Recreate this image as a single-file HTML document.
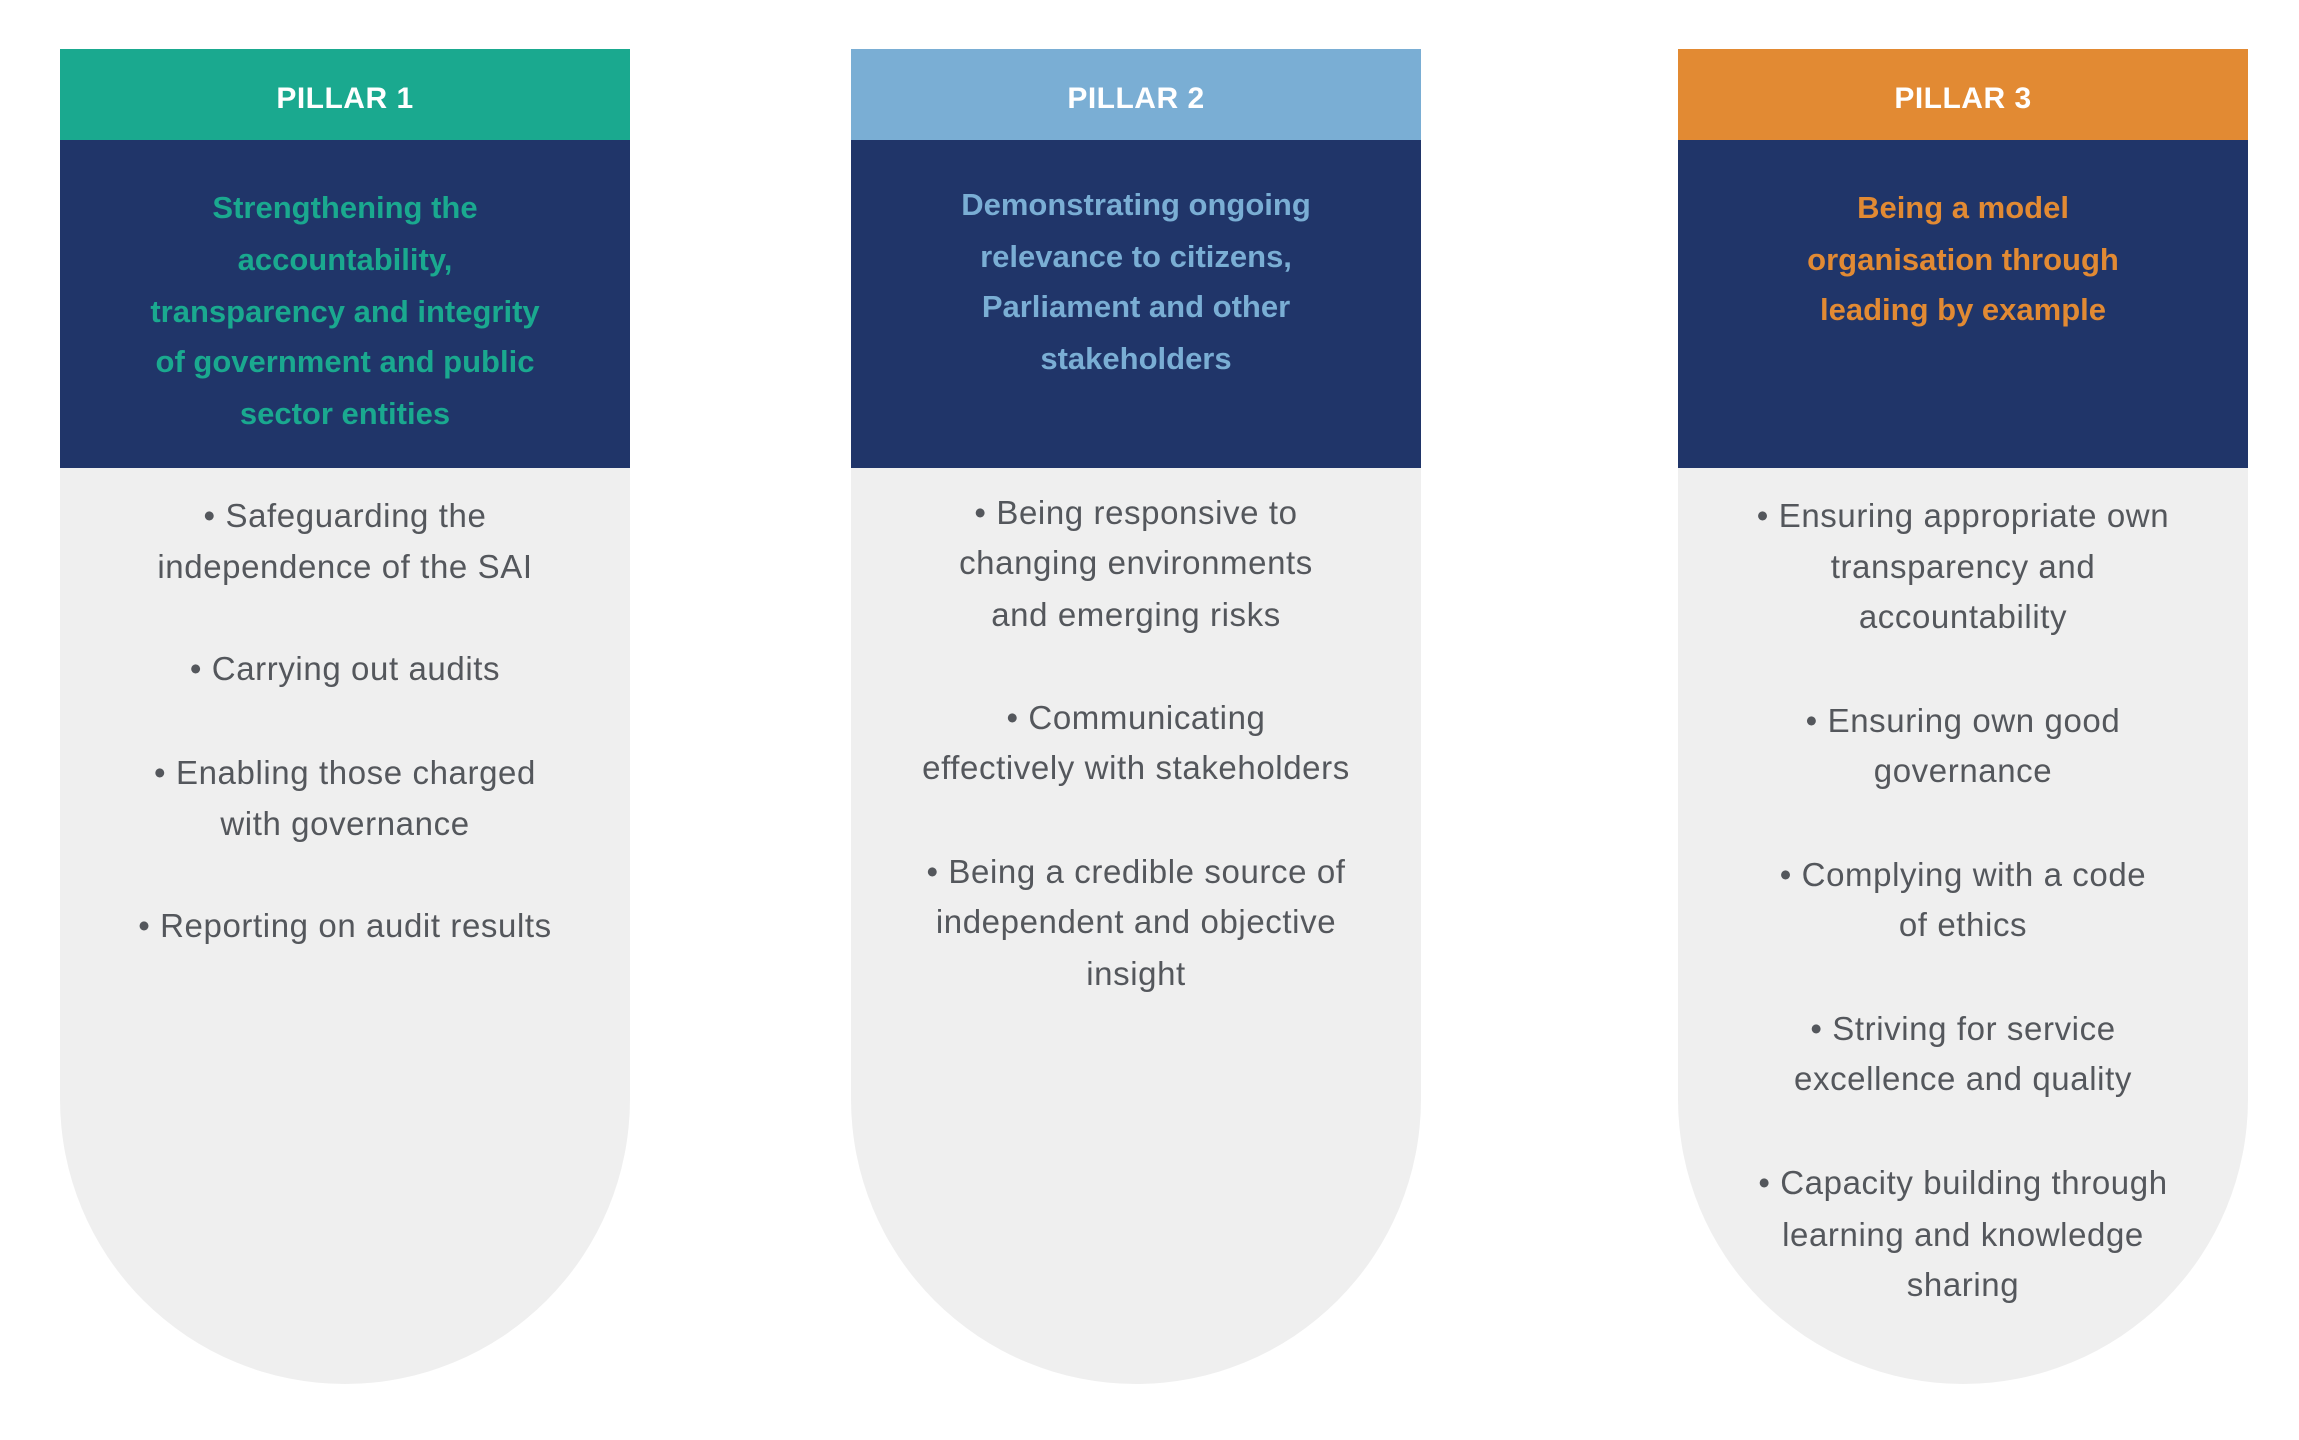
<!DOCTYPE html>
<html><head><meta charset="utf-8"><style>
body{margin:0;width:2299px;height:1440px;background:#fff;position:relative;overflow:hidden;font-family:"Liberation Sans",sans-serif}
.col{position:absolute;top:49px;width:570px}
.hd{height:91px;color:#fff;font-weight:bold;font-size:30px;text-align:center;line-height:100px;letter-spacing:0.5px}
.nv{height:328px;background:#203569;position:relative}
.gr{height:916px;background:#efefef;border-radius:0 0 285px 285px;position:relative}
.l{position:absolute;left:0;width:570px;text-align:center;height:52px;line-height:52px;white-space:nowrap}
.t{font-weight:bold;font-size:31px}
.b{font-size:33px;color:#54575c;letter-spacing:0.6px}
</style></head><body>

<div class="col" style="left:60px">
<div class="hd" style="background:#1aa98f">PILLAR 1</div>
<div class="nv">
<div class="l t" style="color:#1aa98f;top:42px">Strengthening the</div>
<div class="l t" style="color:#1aa98f;top:94px">accountability,</div>
<div class="l t" style="color:#1aa98f;top:146px">transparency and integrity</div>
<div class="l t" style="color:#1aa98f;top:196px">of government and public</div>
<div class="l t" style="color:#1aa98f;top:248px">sector entities</div>
</div>
<div class="gr">
<div class="l b" style="top:22px">• Safeguarding the</div>
<div class="l b" style="top:73px">independence of the SAI</div>
<div class="l b" style="top:175px">• Carrying out audits</div>
<div class="l b" style="top:279px">• Enabling those charged</div>
<div class="l b" style="top:330px">with governance</div>
<div class="l b" style="top:432px">• Reporting on audit results</div>
</div>
</div>

<div class="col" style="left:851px">
<div class="hd" style="background:#7aaed4">PILLAR 2</div>
<div class="nv">
<div class="l t" style="color:#7aaed4;top:39px">Demonstrating ongoing</div>
<div class="l t" style="color:#7aaed4;top:91px">relevance to citizens,</div>
<div class="l t" style="color:#7aaed4;top:141px">Parliament and other</div>
<div class="l t" style="color:#7aaed4;top:193px">stakeholders</div>
</div>
<div class="gr">
<div class="l b" style="top:19px">• Being responsive to</div>
<div class="l b" style="top:69px">changing environments</div>
<div class="l b" style="top:121px">and emerging risks</div>
<div class="l b" style="top:224px">• Communicating</div>
<div class="l b" style="top:274px">effectively with stakeholders</div>
<div class="l b" style="top:378px">• Being a credible source of</div>
<div class="l b" style="top:428px">independent and objective</div>
<div class="l b" style="top:480px">insight</div>
</div>
</div>

<div class="col" style="left:1678px">
<div class="hd" style="background:#e28a33">PILLAR 3</div>
<div class="nv">
<div class="l t" style="color:#e28a33;top:42px">Being a model</div>
<div class="l t" style="color:#e28a33;top:94px">organisation through</div>
<div class="l t" style="color:#e28a33;top:144px">leading by example</div>
</div>
<div class="gr">
<div class="l b" style="top:22px">• Ensuring appropriate own</div>
<div class="l b" style="top:73px">transparency and</div>
<div class="l b" style="top:123px">accountability</div>
<div class="l b" style="top:227px">• Ensuring own good</div>
<div class="l b" style="top:277px">governance</div>
<div class="l b" style="top:381px">• Complying with a code</div>
<div class="l b" style="top:431px">of ethics</div>
<div class="l b" style="top:535px">• Striving for service</div>
<div class="l b" style="top:585px">excellence and quality</div>
<div class="l b" style="top:689px">• Capacity building through</div>
<div class="l b" style="top:741px">learning and knowledge</div>
<div class="l b" style="top:791px">sharing</div>
</div>
</div>

</body></html>
